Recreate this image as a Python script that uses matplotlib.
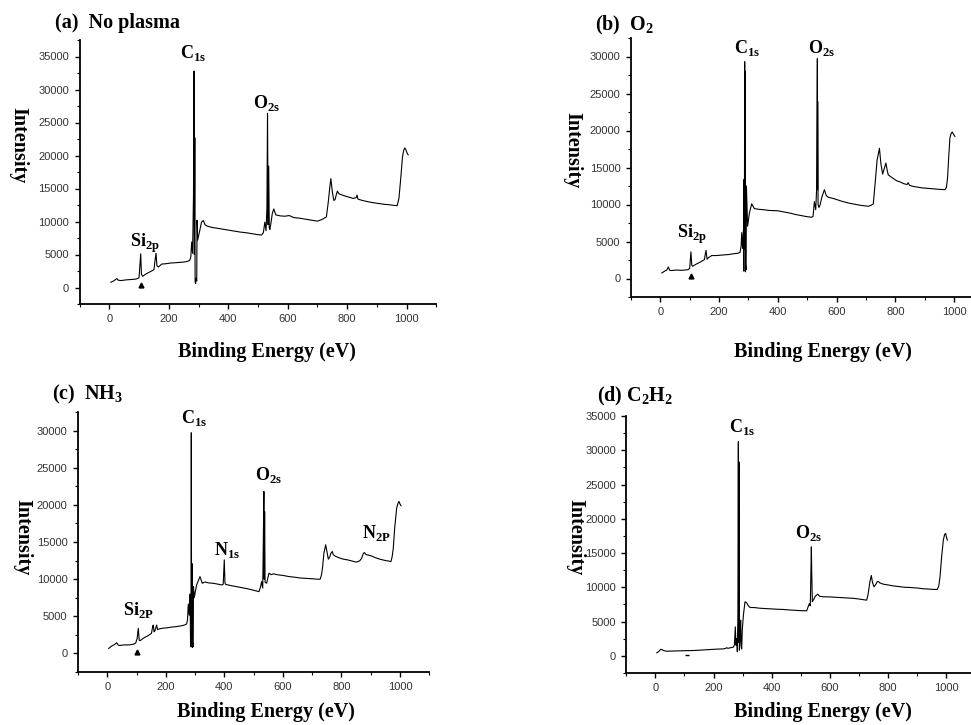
"""XPS survey spectra of the film after different plasma treatments (4 panels)."""
import matplotlib; matplotlib.use('Agg')  # noqa: E702
import matplotlib.pyplot as plt
from matplotlib.ticker import MultipleLocator

plt.rcParams['font.family'] = 'Liberation Serif'
plt.rcParams['mathtext.fontset'] = 'custom'
plt.rcParams['mathtext.rm'] = 'Liberation Serif'
plt.rcParams['mathtext.bf'] = 'Liberation Serif:bold'

# (a) no plasma
A_E = [5, 15, 25, 30, 40, 55, 70, 85, 95, 100, 103, 105.5, 108, 112, 125, 140, 150, 154, 157, 160,
       165, 176, 190, 205, 220, 235, 250, 262, 270, 274, 277, 280, 283, 285, 286, 287.5, 288.5, 290,
       292, 294, 295, 297, 304, 310, 316, 322, 330, 345, 360, 380, 400, 420, 440, 460, 480, 500, 512,
       518, 523, 527, 530, 532, 534, 536, 538, 540, 543, 548, 553, 560, 575, 590, 605, 620, 640, 660,
       680, 700, 715, 730, 736, 741, 745, 750, 755, 759, 763, 767, 772, 778, 790, 805, 820, 830, 833,
       836, 850, 865, 880, 895, 910, 925, 940, 955, 968, 974, 980, 986, 990, 994, 998, 1002, 1005]
A_I = [800, 1000, 1350, 1100, 1050, 1150, 1200, 1250, 1350, 1500, 3500, 5100, 2000, 1700, 2100, 2450,
       2700, 4200, 5200, 3300, 3100, 3550, 3600, 3700, 3750, 3800, 3850, 3950, 4100, 4600, 6900, 5200,
       13800, 32800, 5000, 22700, 900, 600, 1400, 1000, 10200, 7200, 8600, 9900, 10150, 9500, 9300,
       9100, 9000, 8850, 8700, 8550, 8400, 8300, 8150, 8000, 7950, 8300, 9900, 8600, 12000, 26400,
       9500, 18400, 9000, 8800, 9600, 11200, 11900, 11000, 10850, 10800, 10900, 10600, 10500, 10350,
       10200, 10050, 10300, 10700, 12800, 15000, 16500, 14500, 13200, 13300, 14000, 14600, 14200,
       14100, 13900, 13700, 13500, 13600, 14000, 13400, 13200, 13050, 12900, 12800, 12700, 12600,
       12550, 12450, 12400, 13500, 16500, 19800, 20800, 21150, 20800, 20300, 20100]

# (b) O2 plasma
B_E = [5, 15, 22, 27, 32, 40, 55, 70, 85, 95, 100, 104, 107, 110, 120, 135, 150, 153, 155.5, 159, 163,
       175, 190, 205, 220, 235, 250, 262, 271, 275, 277, 280, 283, 284, 285, 286, 287.2, 288, 288.8,
       289.6, 291, 292, 293, 297, 303, 311, 320, 335, 350, 370, 400, 420, 440, 460, 480, 500, 515, 520,
       524.4, 529, 532, 534.6, 535.2, 535.7, 537, 540, 543.6, 550, 558.5, 565, 572, 590, 617, 640, 660,
       680, 700, 708, 718, 725, 731, 738, 746, 751, 757, 762, 768, 772, 776, 790, 805, 816, 830, 840,
       844, 848, 860, 875, 890, 905, 920, 935, 950, 969, 974, 978, 982, 986, 990, 994, 998, 1003]
B_I = [750, 1000, 1150, 1550, 1100, 1080, 1150, 1100, 1150, 1200, 1400, 3600, 1800, 1650, 1900, 2200,
       2550, 3300, 3800, 2600, 2800, 3100, 3100, 3150, 3200, 3250, 3350, 3400, 3500, 4400, 6200, 4050,
       6500, 1000, 13400, 4000, 29300, 5000, 28000, 900, 1700, 1200, 12500, 7060, 8800, 10100, 9450,
       9350, 9300, 9200, 9150, 9000, 8850, 8650, 8500, 8350, 8280, 8400, 10400, 9300, 12000, 29700,
       12000, 23900, 10000, 9600, 9900, 11000, 12000, 11200, 10975, 10800, 10450, 10200, 10050, 9900,
       9800, 9760, 9900, 10075, 12700, 16000, 17600, 15500, 14100, 14800, 15600, 14700, 14000, 13600,
       13200, 13050, 12800, 12700, 12950, 12600, 12450, 12350, 12250, 12200, 12150, 12100, 12050,
       12000, 12300, 13600, 16500, 19000, 19600, 19800, 19500, 19200]

# (c) NH3 plasma
C_E = [5, 15, 25, 32, 38, 43, 60, 75, 90, 97, 102, 106, 109, 112, 125, 140, 151, 155, 157, 160, 163,
       168.5, 172, 177, 190, 205, 220, 235, 250, 262, 271, 274, 276.7, 280, 283, 284.5, 286, 287, 288,
       289.3, 290.5, 292, 293.5, 294.5, 297.2, 305, 316.6, 324.5, 333.7, 345, 360, 375, 390.6, 396,
       399.7, 402, 404, 420, 440, 460, 480, 504.5, 518, 524, 527, 531, 533, 535, 536, 537.5, 539, 544.3,
       552.3, 560, 567, 580, 600, 620, 641, 660, 680, 700, 715, 727, 732, 735.7, 740, 746, 750, 755,
       760, 764, 768.7, 772, 777.8, 790, 805, 820, 835, 850, 857.5, 863, 869, 874, 878, 884, 890, 903,
       915, 930, 945, 958, 969, 973, 977, 982, 988.5, 993, 996.5, 1000, 1003.5]
C_I = [675, 1000, 1200, 1440, 1100, 1080, 1150, 1150, 1250, 1400, 2000, 3370, 1800, 1710, 2100, 2400,
       2700, 3600, 3820, 2900, 3060, 3820, 3200, 3300, 3400, 3450, 3550, 3600, 3700, 3800, 3960, 4500,
       6660, 5150, 8000, 900, 1000, 29700, 1000, 12100, 800, 1300, 900, 9000, 7500, 9200, 10345, 9445,
       9620, 9500, 9450, 9350, 9220, 9300, 12600, 9500, 9300, 9150, 9000, 8850, 8700, 8455, 8320, 9000,
       9670, 8800, 15000, 21800, 10000, 19100, 9600, 9445, 10795, 10600, 10720, 10600, 10500, 10350,
       10255, 10150, 10100, 10050, 10000, 9985, 10600, 11695, 13500, 14620, 13800, 12685, 13000, 13500,
       13720, 13300, 13120, 12900, 12700, 12600, 12450, 12300, 12370, 12500, 12820, 13400, 13585,
       13300, 13250, 13120, 12900, 12700, 12550, 12450, 12370, 13000, 14170, 17000, 19565, 20200,
       20465, 20100, 19880]

# (d) C2H2 plasma
D_E = [5, 12, 18, 22, 30, 39, 55, 70, 90, 110, 130, 154, 170, 190, 210, 225, 234, 242, 245.4, 250, 260,
       268, 272, 275, 277.5, 280, 282, 284, 285.5, 286.5, 288, 289, 291, 293.5, 295, 297, 299, 303,
       308.5, 314, 320, 325.7, 340, 360, 380, 400, 420, 440.4, 460, 480, 500, 520.6, 525, 529.8, 533,
       536.7, 537.8, 540, 543.5, 550, 558.5, 565, 578, 600, 620, 640, 660, 680, 700, 715, 727, 731, 734,
       738, 743, 747, 752.3, 758, 763, 767, 772, 784.3, 800, 820, 840, 860, 876, 900, 920, 940, 955, 970,
       975, 979.3, 985, 990.7, 995, 998.7, 1001, 1004.5]
D_I = [440, 650, 950, 925, 750, 680, 700, 720, 740, 760, 780, 830, 880, 930, 980, 1000, 1020, 1100,
       1190, 1100, 1200, 1265, 1600, 4235, 1560, 2500, 590, 6000, 31250, 2000, 28300, 830, 2500, 5210,
       1500, 1000, 3800, 6000, 7900, 7740, 7300, 7060, 7050, 6950, 6900, 6850, 6800, 6770, 6700, 6650,
       6600, 6570, 7100, 7640, 7300, 15900, 12500, 7900, 8130, 8700, 9005, 8700, 8620, 8600, 8550, 8500,
       8450, 8400, 8300, 8200, 8130, 8800, 9590, 10800, 11730, 10700, 10075, 10400, 10800, 10855, 10650,
       10460, 10350, 10200, 10100, 10000, 9980, 9900, 9800, 9750, 9700, 9690, 10200, 11535, 14500,
       16890, 17700, 17865, 17400, 16890]

# small artefact glyphs printed below the Si 2p peak
ART_E = [106, 103, 100, 108]
ART_I = [350, 400, 220, 80]

TITLES = ['(a)  No plasma', '(b)  O$_\\mathbf{2}$', '(c)  NH$_\\mathbf{3}$',
          '(d) C$_\\mathbf{2}$H$_\\mathbf{2}$']
XLABEL = 'Binding Energy (eV)'
YLABEL = 'Intensity'


def _lbl(base, sub):
    return base + '$_\\mathbf{' + sub + '}$'


def _panel(rect, energy, inten, ytop, ymax_tick, labels, art_marker, art_idx):
    ax = fig.add_axes(rect)
    ax.plot(energy, inten, color='black', linewidth=0.8)
    ax.plot([ART_E[art_idx]], [ART_I[art_idx]], marker=art_marker, color='black',
            markersize=3.5, linestyle='none')
    ax.set_xlim(-100, 1100)
    ax.set_ylim(-2500, ytop)
    ax.set_xticks(range(0, 1001, 200))
    ax.set_yticks(range(0, ymax_tick + 1, 5000))
    ax.xaxis.set_minor_locator(MultipleLocator(100))
    ax.yaxis.set_minor_locator(MultipleLocator(2500))
    for s in ('top', 'right'):
        ax.spines[s].set_visible(False)
    for s in ('left', 'bottom'):
        ax.spines[s].set_linewidth(1.3)
    ax.tick_params(which='major', direction='out', length=3.5, width=1, pad=4,
                   labelsize=8, labelcolor='#333333')
    ax.tick_params(which='minor', direction='out', length=2, width=0.8)
    for lab in ax.get_xticklabels() + ax.get_yticklabels():
        lab.set_family('Liberation Sans')
    for text, x, y in labels:
        ax.text(x, y, text, ha='center', va='center', fontsize=13, fontweight='bold')
    return ax


W, H = 971, 725
fig = plt.figure(figsize=(W / 100, H / 100), dpi=100)


def _r(left, right, top, bottom):
    return [left / W, 1 - bottom / H, (right - left) / W, (bottom - top) / H]


_panel(_r(79.6, 436.4, 40, 304), A_E, A_I, 37500, 35000,
       [(_lbl('C', '1s'), 282, 35600), (_lbl('O', '2s'), 529, 28000),
        (_lbl('Si', '2p'), 120, 6700)], '^', 0)
_panel(_r(631, 983.4, 38, 297), B_E, B_I, 32500, 30000,
       [(_lbl('C', '1s'), 294, 31100), (_lbl('O', '2s'), 549, 31100),
        (_lbl('Si', '2p'), 107, 5900)], '^', 1)
_panel(_r(78, 429.3, 412, 672), C_E, C_I, 32500, 30000,
       [(_lbl('C', '1s'), 297, 31700), (_lbl('N', '1s'), 408, 13900),
        (_lbl('O', '2s'), 550, 24000), (_lbl('N', '2P'), 920, 16200),
        (_lbl('Si', '2P'), 106, 5850)], '^', 2)
_panel(_r(626.3, 975.1, 416, 673), D_E, D_I, 35000, 35000,
       [(_lbl('C', '1s'), 297, 33450), (_lbl('O', '2s'), 526, 17960)], '_', 3)

# panel titles, axis labels
for text, x, y in zip(TITLES, [55, 595, 52, 597], [28, 30, 399, 401]):
    fig.text(x / W, 1 - y / H, text, fontsize=14.5, fontweight='bold', va='baseline')
for x, y in [(267, 352), (823, 352), (266, 712), (823, 712)]:
    fig.text(x / W, 1 - y / H, XLABEL, fontsize=14.5, fontweight='bold', ha='center', va='center')
for x, y in [(18, 145), (572, 150), (22, 537), (575, 537)]:
    fig.text(x / W, 1 - y / H, YLABEL, fontsize=14.5, fontweight='bold', ha='center', va='center',
             rotation=270)

fig.savefig('out.png', dpi=100)
plt.close(fig)
